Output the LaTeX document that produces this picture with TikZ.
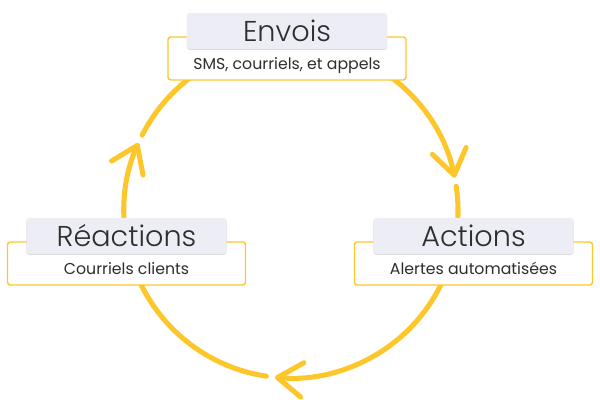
\documentclass[tikz,border=0pt]{standalone}
\usepackage{fontspec}
\setmainfont{Poppins}
\newfontfamily\thinfont{Poppins Light}
\usepackage{xcolor}
\usepackage{tikz}
\usetikzlibrary{arrows.meta, positioning, shadows}
\definecolor{cyclegold}{HTML}{FDC72C}
\definecolor{tabgray}{HTML}{EDEDF5}
\definecolor{inkgray}{HTML}{2E2E2E}

\begin{document}
\begin{tikzpicture}[x=0.025cm, y=0.025cm,
    cycle arc/.style={cyclegold, line width=3.6pt, line cap=round,
        -{Straight Barb[length=0.62cm, width=0.86cm, round]}},
    frame box/.style={draw=cyclegold, line width=1pt, fill=white, rounded corners=2pt,
        minimum width=5.95cm, minimum height=1.075cm, text height=0.575cm, text depth=0pt,
        text=inkgray, font=\fontsize{11.2}{13}\selectfont},
    tab box/.style={fill=tabgray, rounded corners=2pt, minimum width=5cm, minimum height=0.9cm,
        text height=0.5cm, text depth=0pt, text=inkgray, font=\thinfont\fontsize{20.4}{22}\selectfont,
        drop shadow={shadow xshift=0pt, shadow yshift=-0.6pt, opacity=0.15, fill=black}}]
    \useasboundingbox (0, 0) rectangle (600, 400);
    \coordinate (hub) at (291, 189);

    % 圆环
    \draw[cycle arc] (hub) ++(153:4.175cm) arc[start angle=153, end angle=11.5, radius=4.175cm];
    \draw[cycle arc] (hub) ++(8.5:4.175cm) arc[start angle=8.5, end angle=-95.5, radius=4.175cm];
    \draw[cycle arc] (hub) ++(-98.5:4.175cm) arc[start angle=-98.5, end angle=-204, radius=4.175cm];

    % 上：Envois
    \node[frame box] (envoisframe) at (287, 341.5) {SMS, courriels, et appels};
    \node[tab box, above=-0.325cm of envoisframe] (envoistab) {Envois};

    % 左：Réactions
    \node[frame box] (reactframe) at (126.5, 136.5) {Courriels clients};
    \node[tab box, above=-0.325cm of reactframe] (reacttab) {Réactions};

    % 右：Actions
    \node[frame box] (actframe) at (473.5, 136.5) {Alertes automatisées};
    \node[tab box, above=-0.325cm of actframe] (acttab) {Actions};
\end{tikzpicture}
\end{document}
